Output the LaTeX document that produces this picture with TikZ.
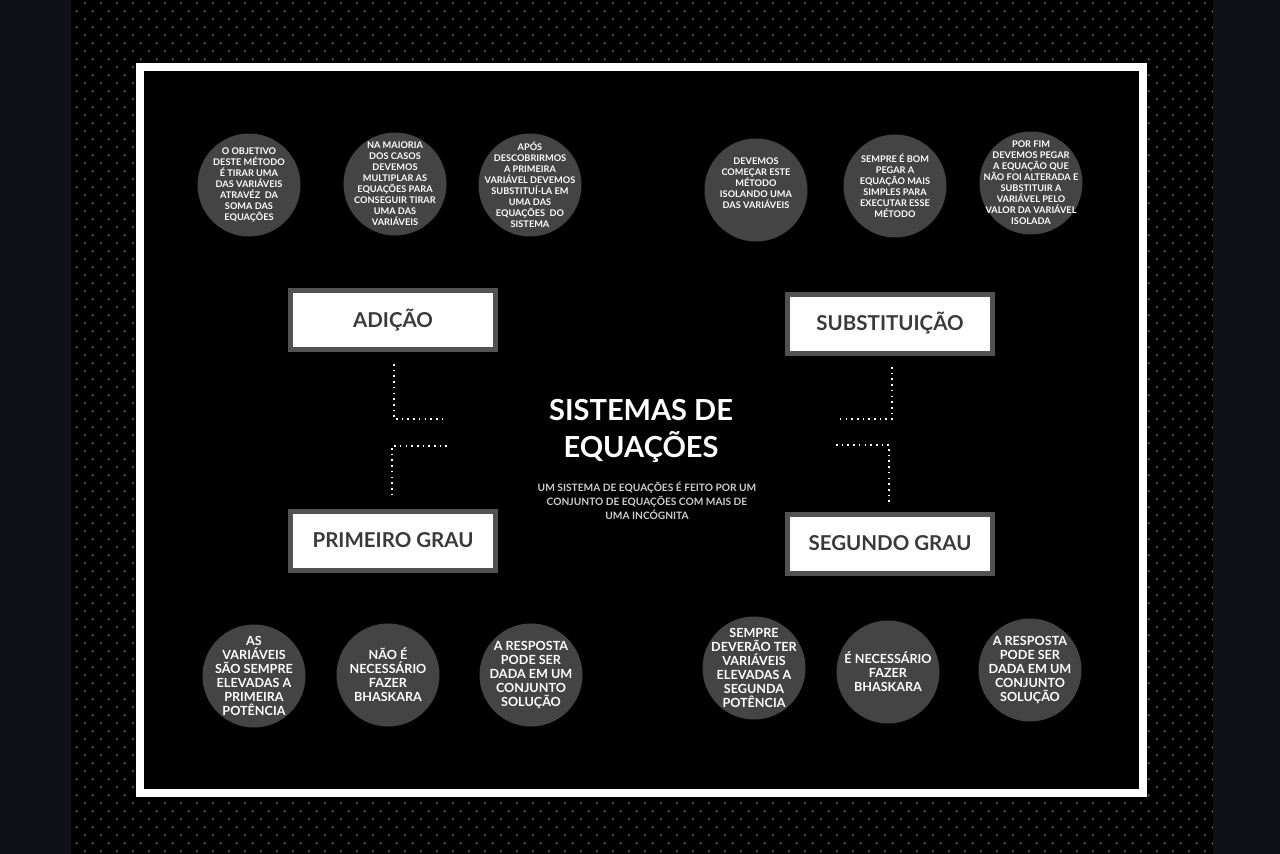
\documentclass[tikz,border=0pt]{standalone}
\usepackage{fontspec}
\usetikzlibrary{patterns.meta}
\setmainfont{Lato}
\definecolor{lato}{RGB}{14,18,23}
\definecolor{puntino}{RGB}{100,100,100}
\definecolor{bolla}{RGB}{68,68,68}
\definecolor{bordo}{RGB}{82,82,82}
\definecolor{scritta}{RGB}{58,58,58}
\definecolor{sottotit}{RGB}{205,205,205}
\tikzdeclarepattern{
  name=puntini,
  type=uncolored,
  bounding box={(0pt,0pt) and (16.33pt,16.33pt)},
  tile size={(16.33pt,16.33pt)},
  code={
    \fill (4pt,4pt) circle (1.2pt);
    \fill (12.165pt,12.165pt) circle (1.2pt);
  }
}
\tikzset{
  cerchio/.style={circle, fill=bolla, minimum size=103pt, inner sep=0pt},
  testo/.style={align=center, text=white, inner sep=0pt, font=\fontsize{9.2}{11}\selectfont\bfseries},
  testogr/.style={testo, font=\fontsize{12.6}{14}\selectfont\bfseries},
  scatola/.style={rectangle, draw=bordo, line width=5pt, fill=white, minimum width=205pt, minimum height=59pt, text=scritta, font=\fontsize{20.5}{22}\selectfont\bfseries},
  punteggiato/.style={white, line width=1.6pt, dash pattern=on 1.6pt off 4.1pt}
}
\begin{document}
\begin{tikzpicture}[x=1pt,y=-1pt]
        \useasboundingbox (0,0) rectangle (1280,854);
        % sfondo
        \fill[lato] (0,0) rectangle (1280,854);
        \fill[black] (71,0) rectangle (1213,854);
        \fill[pattern=puntini, pattern color=puntino] (71,0) rectangle (1213,854);
        
        % cornice
        \fill[white] (136,63) rectangle (1147,797);
        \fill[black] (144,71) rectangle (1139,789);
        
        % titolo
        \node[text=white, align=center, font=\fontsize{29}{37}\selectfont\bfseries] (titolo) at (641,431) {SISTEMAS DE\\EQUAÇÕES};
        \node[text=sottotit, align=center, font=\fontsize{10.2}{14}\selectfont\bfseries] (sotto) at (647,501) {UM SISTEMA DE EQUAÇÕES É FEITO POR UM\\CONJUNTO DE EQUAÇÕES COM MAIS DE\\UMA INCÓGNITA};
        
        % scatole
        \node[scatola] (adicao) at (393,320) {ADIÇÃO};
        \node[scatola] (primeiro) at (393,540.5) {PRIMEIRO GRAU};
        \node[scatola] (subst) at (890,323.5) {SUBSTITUIÇÃO};
        \node[scatola] (segundo) at (890,543.5) {SEGUNDO GRAU};
        
        % linee puntinate
        \coordinate (a1) at (394,364);
        \coordinate (a2) at (447,419);
        \coordinate (p1) at (447,446);
        \coordinate (p2) at (392,499);
        \coordinate (s1) at (892,367);
        \coordinate (s2) at (836,419);
        \coordinate (g1) at (836,445);
        \coordinate (g2) at (889,502);
        \draw[punteggiato] (a1) |- (a2);
        \draw[punteggiato] (p1) -| (p2);
        \draw[punteggiato] (s1) |- (s2);
        \draw[punteggiato] (g1) -| (g2);
        
        % cerchi in alto
        \node[cerchio, label={[testo]center:O OBJETIVO\\DESTE MÉTODO\\É TIRAR UMA\\DAS VARIÁVEIS\\ATRAVÉZ~ DA\\SOMA DAS\\EQUAÇÕES}] (c1) at (249,185) {};
        \node[cerchio, label={[testo]center:NA MAIORIA\\DOS CASOS\\DEVEMOS\\MULTIPLAR AS\\EQUAÇÕES PARA\\CONSEGUIR TIRAR\\UMA DAS\\VARIÁVEIS}] (c2) at (395,184) {};
        \node[cerchio, label={[testo]center:APÓS\\DESCOBRIRMOS\\A PRIMEIRA\\VARIÁVEL DEVEMOS\\SUBSTITUÍ-LA EM\\UMA DAS\\EQUAÇÕES~ DO\\SISTEMA}] (c3) at (530,185) {};
        \node[cerchio, label={[testo, yshift=7pt]center:DEVEMOS\\COMEÇAR ESTE\\MÉTODO\\ISOLANDO UMA\\DAS VARIÁVEIS}] (c4) at (756,190) {};
        \node[cerchio, label={[testo]center:SEMPRE É BOM\\PEGAR A\\EQUAÇÃO MAIS\\SIMPLES PARA\\EXECUTAR ESSE\\MÉTODO}] (c5) at (895,186) {};
        \node[cerchio, label={[testo]center:POR FIM\\DEVEMOS PEGAR\\A EQUAÇÃO QUE\\NÃO FOI ALTERADA E\\SUBSTITUIR A\\VARIÁVEL PELO\\VALOR DA VARIÁVEL\\ISOLADA}] (c6) at (1031,183) {};
        
        % cerchi in basso
        \node[cerchio, label={[testogr]center:AS\\VARIÁVEIS\\SÃO SEMPRE\\ELEVADAS A\\PRIMEIRA\\POTÊNCIA}] (c7) at (254,676) {};
        \node[cerchio, label={[testogr]center:NÃO É\\NECESSÁRIO\\FAZER\\BHASKARA}] (c8) at (388,675) {};
        \node[cerchio, label={[testogr]center:A RESPOSTA\\PODE SER\\DADA EM UM\\CONJUNTO\\SOLUÇÃO}] (c9) at (531,675) {};
        \node[cerchio, label={[testogr]center:SEMPRE\\DEVERÃO TER\\VARIÁVEIS\\ELEVADAS A\\SEGUNDA\\POTÊNCIA}] (c10) at (754,668) {};
        \node[cerchio, label={[testogr]center:É NECESSÁRIO\\FAZER\\BHASKARA}] (c11) at (888,672) {};
        \node[cerchio, label={[testogr]center:A RESPOSTA\\PODE SER\\DADA EM UM\\CONJUNTO\\SOLUÇÃO}] (c12) at (1030,670) {};
    \end{tikzpicture}
\end{document}
